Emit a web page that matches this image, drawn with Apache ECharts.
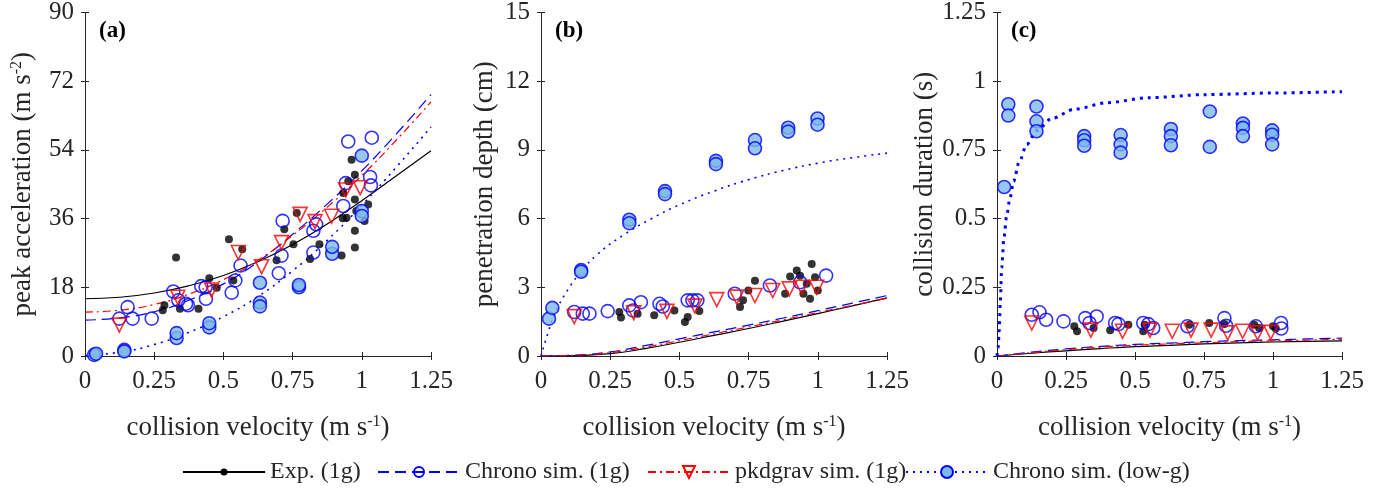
<!DOCTYPE html>
<html>
<head>
<meta charset="utf-8">
<script src="https://cdn.jsdelivr.net/npm/echarts@6/dist/echarts.min.js"></script>
<style>
html,body{margin:0;padding:0;background:#fff;}
#chart{width:1390px;height:488px;}
</style>
</head>
<body>
<div id="chart"></div>
<script>
// ---------- tick labels ----------
const xTicks = [0, 0.25, 0.5, 0.75, 1, 1.25];
const yTicksA = [0, 18, 36, 54, 72, 90];
const yTicksB = [0, 3, 6, 9, 12, 15];
const yTicksC = [0, 0.25, 0.5, 0.75, 1, 1.25];

// ---------- panel (a): peak acceleration ----------
const expA = [[0.281,12.0],[0.287,13.3],[0.329,25.8],[0.343,12.4],[0.41,12.4],[0.449,20.4],[0.476,17.9],[0.52,30.6],[0.536,19.8],[0.568,28.0],[0.692,25.1],[0.72,33.2],[0.753,29.3],[0.765,37.5],[0.813,25.4],[0.847,29.3],[0.927,26.3],[0.931,36.1],[0.945,36.2],[0.933,42.7],[0.963,51.4],[0.975,47.5],[0.975,41.0],[0.975,32.8],[0.975,28.4],[1.01,35.4],[1.023,39.7],[0.98,38.0],[0.951,45.8]];
const chronoA = [[0.124,9.8],[0.154,12.8],[0.172,9.8],[0.241,9.8],[0.319,16.9],[0.337,14.6],[0.365,13.7],[0.372,13.3],[0.42,18.3],[0.436,18.0],[0.437,15.0],[0.53,16.6],[0.543,19.8],[0.562,23.7],[0.70,21.7],[0.71,26.3],[0.714,35.4],[0.825,27.1],[0.825,32.8],[0.835,34.5],[0.933,39.3],[0.942,45.3],[0.951,56.2],[1.036,57.2],[1.03,46.9],[1.033,44.7]];
const pkdA = [[0.124,8.1],[0.335,15.4],[0.457,17.3],[0.554,27.1],[0.638,23.4],[0.71,29.7],[0.777,37.1],[0.831,35.2],[0.891,36.6],[0.942,43.5],[0.994,44.1]];
const lowA = [[0.033,0.3],[0.04,0.6],[0.142,1.6],[0.142,1.2],[0.331,4.7],[0.331,6.0],[0.449,7.5],[0.449,8.6],[0.632,19.2],[0.632,14.0],[0.632,13.0],[0.773,18.0],[0.773,18.6],[0.893,26.8],[0.893,28.6],[1.0,52.5],[1.0,38.0],[1.0,36.7]];
const expFitA = [[0,15.0],[0.125,15.4],[0.25,16.5],[0.375,18.4],[0.5,21.1],[0.625,24.7],[0.75,29.2],[0.875,34.6],[1.0,40.7],[1.125,47.2],[1.25,53.8]];
const chronoFitA = [[0,9.4],[0.125,10.0],[0.25,11.6],[0.375,14.6],[0.5,18.9],[0.625,24.7],[0.75,31.9],[0.875,39.8],[1.0,48.5],[1.125,58.2],[1.25,68.5]];
const pkdFitA = [[0,11.5],[0.125,12.0],[0.25,13.5],[0.375,16.2],[0.5,20.0],[0.625,25.1],[0.75,31.6],[0.875,39.0],[1.0,47.3],[1.125,56.6],[1.25,66.6]];
const lowFitA = [[0,0.2],[0.125,1.0],[0.25,3.0],[0.375,6.2],[0.5,10.3],[0.625,15.6],[0.75,22.3],[0.875,30.3],[1.0,39.5],[1.125,49.5],[1.25,60.0]];

// ---------- panel (b): penetration depth ----------
const expB = [[0.283,1.92],[0.289,1.68],[0.349,1.85],[0.409,1.78],[0.482,1.99],[0.52,1.49],[0.53,1.7],[0.572,1.96],[0.719,2.14],[0.73,2.43],[0.749,2.86],[0.773,3.29],[0.882,2.72],[0.9,3.47],[0.924,3.73],[0.936,3.5],[0.978,4.02],[0.96,3.15],[0.972,2.5],[1.0,2.86],[0.99,3.44],[0.948,2.72]];
const chronoB = [[0.12,1.92],[0.151,1.85],[0.175,1.85],[0.241,1.96],[0.319,2.21],[0.332,1.99],[0.361,2.35],[0.428,2.28],[0.44,2.16],[0.53,2.43],[0.547,2.43],[0.565,2.43],[0.70,2.72],[0.827,3.08],[0.936,3.22],[1.03,3.51]];
const pkdB = [[0.12,1.72],[0.335,1.89],[0.455,1.95],[0.556,2.18],[0.635,2.46],[0.707,2.57],[0.773,2.64],[0.837,2.86],[0.897,2.93],[0.942,3.0],[0.996,3.0]];
const lowB = [[0.029,1.63],[0.041,2.1],[0.145,3.75],[0.145,3.68],[0.319,5.95],[0.319,5.8],[0.448,7.2],[0.448,7.07],[0.632,8.52],[0.632,8.38],[0.773,9.43],[0.773,9.07],[0.893,9.97],[0.893,9.8],[0.999,10.37],[0.999,10.1]];
const expFitB = [[0,0],[0.125,0.02],[0.25,0.1],[0.375,0.32],[0.5,0.6],[0.625,0.9],[0.75,1.2],[0.875,1.52],[1.0,1.85],[1.125,2.19],[1.25,2.54]];
const chronoFitB = [[0,0],[0.125,0.04],[0.25,0.18],[0.375,0.45],[0.5,0.75],[0.625,1.05],[0.75,1.35],[0.875,1.66],[1.0,1.98],[1.125,2.31],[1.25,2.64]];
const pkdFitB = [[0,0],[0.125,0.03],[0.25,0.14],[0.375,0.38],[0.5,0.67],[0.625,0.97],[0.75,1.27],[0.875,1.58],[1.0,1.9],[1.125,2.21],[1.25,2.52]];
const lowFitB = [[0,0],[0.025,1.0],[0.05,1.85],[0.1,2.95],[0.15,3.75],[0.2,4.4],[0.3,5.3],[0.4,6.0],[0.5,6.6],[0.625,7.2],[0.75,7.7],[0.875,8.1],[1.0,8.42],[1.125,8.66],[1.25,8.86]];

// ---------- panel (c): collision duration ----------
const expC = [[0.28,0.108],[0.29,0.09],[0.35,0.102],[0.41,0.094],[0.476,0.114],[0.53,0.09],[0.535,0.114],[0.697,0.114],[0.769,0.12],[0.824,0.116],[0.932,0.114],[0.95,0.102],[1.0,0.108],[1.01,0.1]];
const chronoC = [[0.126,0.150],[0.154,0.159],[0.178,0.132],[0.241,0.126],[0.32,0.138],[0.335,0.12],[0.361,0.144],[0.428,0.12],[0.44,0.116],[0.53,0.12],[0.548,0.116],[0.566,0.102],[0.69,0.108],[0.824,0.138],[0.83,0.11],[0.938,0.108],[1.029,0.12],[1.03,0.1]];
const pkdC = [[0.126,0.12],[0.34,0.094],[0.455,0.09],[0.554,0.094],[0.635,0.09],[0.703,0.094],[0.776,0.094],[0.836,0.084],[0.89,0.09],[0.944,0.084],[0.992,0.086]];
const lowC = [[0.026,0.615],[0.041,0.916],[0.041,0.875],[0.143,0.908],[0.143,0.854],[0.143,0.818],[0.316,0.80],[0.316,0.785],[0.316,0.765],[0.448,0.804],[0.448,0.77],[0.448,0.74],[0.63,0.826],[0.63,0.80],[0.63,0.767],[0.771,0.89],[0.771,0.761],[0.891,0.846],[0.891,0.83],[0.891,0.8],[0.997,0.821],[0.997,0.805],[0.997,0.77]];
const expFitC = [[0,0],[0.125,0.01],[0.25,0.019],[0.375,0.027],[0.5,0.034],[0.625,0.039],[0.75,0.044],[0.875,0.048],[1.0,0.051],[1.125,0.053],[1.25,0.055]];
const chronoFitC = [[0,0],[0.125,0.014],[0.25,0.026],[0.375,0.035],[0.5,0.042],[0.625,0.047],[0.75,0.052],[0.875,0.056],[1.0,0.059],[1.125,0.062],[1.25,0.065]];
const pkdFitC = [[0,0],[0.125,0.012],[0.25,0.023],[0.375,0.032],[0.5,0.039],[0.625,0.044],[0.75,0.048],[0.875,0.052],[1.0,0.055],[1.125,0.058],[1.25,0.061]];
const lowFitC = [[0,0],[0.004,0.03],[0.008,0.09],[0.012,0.2],[0.017,0.32],[0.025,0.43],[0.035,0.51],[0.047,0.575],[0.06,0.635],[0.08,0.705],[0.108,0.77],[0.143,0.82],[0.2,0.865],[0.28,0.898],[0.4,0.922],[0.55,0.94],[0.75,0.951],[1.0,0.957],[1.25,0.962]];

// ---------- labels ----------
const panelLabels = ['(a)', '(b)', '(c)'];
const yNames = ['peak acceleration (m s{sup|-2})', 'penetration depth (cm)', 'collision duration (s)'];
const xName = 'collision velocity (m s{sup|-1})';
const legendNames = ['Exp. (1g)', 'Chrono sim. (1g)', 'pkdgrav sim. (1g)', 'Chrono sim. (low-g)'];

// ---------- styling ----------
const FONT = 'Liberation Serif';
const AX = '#262626';
const BLUE = '#0000ff';
const RED = '#ff0000';
const LIGHT = '#7db9e8';
const grids = [
  {left: 85, top: 10, width: 346, height: 346},
  {left: 541, top: 10, width: 346, height: 346},
  {left: 997, top: 10, width: 345, height: 346}
];
const yNameGaps = [48, 43, 59];
const yTickSets = [yTicksA, yTicksB, yTicksC];

const rich = {sup: {fontSize: 16, fontFamily: FONT, color: AX, verticalAlign: 'top', padding: [0, 0, 12, 0]}};

const xAxes = [], yAxes = [];
grids.forEach((g, i) => {
  const xmin = xTicks[0], xmax = xTicks[xTicks.length - 1], xint = xTicks[1] - xTicks[0];
  const yt = yTickSets[i];
  const ymin = yt[0], ymax = yt[yt.length - 1], yint = yt[1] - yt[0];
  xAxes.push({
    type: 'value', gridIndex: i, position: 'bottom', min: xmin, max: xmax, interval: xint,
    axisLine: {show: true, lineStyle: {color: AX, width: 1}},
    axisTick: {show: true, inside: true, length: 4, lineStyle: {color: AX}},
    axisLabel: {color: AX, fontFamily: FONT, fontSize: 25, margin: 13},
    splitLine: {show: false},
    name: xName, nameLocation: 'middle', nameGap: 58,
    nameTextStyle: {color: AX, fontFamily: FONT, fontSize: 27, rich: rich}
  });
  xAxes.push({
    type: 'value', gridIndex: i, position: 'top', min: xmin, max: xmax, interval: xint,
    axisLine: {show: true, lineStyle: {color: AX, width: 1}},
    axisTick: {show: true, inside: true, length: 4, lineStyle: {color: AX}},
    axisLabel: {show: false}, splitLine: {show: false}
  });
  yAxes.push({
    type: 'value', gridIndex: i, position: 'left', min: ymin, max: ymax, interval: yint,
    axisLine: {show: true, lineStyle: {color: AX, width: 1}},
    axisTick: {show: true, inside: true, length: 4, lineStyle: {color: AX}},
    axisLabel: {color: AX, fontFamily: FONT, fontSize: 25, margin: 11},
    splitLine: {show: false},
    name: yNames[i], nameLocation: 'middle', nameGap: yNameGaps[i],
    nameTextStyle: {color: AX, fontFamily: FONT, fontSize: 27, rich: rich}
  });
  yAxes.push({
    type: 'value', gridIndex: i, position: 'right', min: ymin, max: ymax, interval: yint,
    axisLine: {show: true, lineStyle: {color: AX, width: 1}},
    axisTick: {show: true, inside: true, length: 4, lineStyle: {color: AX}},
    axisLabel: {show: false}, splitLine: {show: false}
  });
});

const styles = {
  exp: {line: {color: '#000', width: 1.2, type: 'solid'}, sym: 'circle', size: 8, item: {color: '#000'}},
  chrono: {line: {color: BLUE, width: 1.2, type: [11, 6]}, sym: 'circle', size: 13, item: {color: 'rgba(0,0,0,0)', borderColor: BLUE, borderWidth: 1.6}},
  pkd: {line: {color: RED, width: 1.2, type: [8, 4, 2, 4]}, sym: 'triangle', size: 14, rot: 180, item: {color: 'rgba(0,0,0,0)', borderColor: RED, borderWidth: 1.6}},
  low: {line: {color: BLUE, width: 1.6, type: [2, 5]}, sym: 'circle', size: 13, item: {color: LIGHT, borderColor: BLUE, borderWidth: 1.6}}
};

const panels = [
  {exp: expA, chrono: chronoA, pkd: pkdA, low: lowA, fits: {exp: expFitA, chrono: chronoFitA, pkd: pkdFitA, low: lowFitA}},
  {exp: expB, chrono: chronoB, pkd: pkdB, low: lowB, fits: {exp: expFitB, chrono: chronoFitB, pkd: pkdFitB, low: lowFitB}},
  {exp: expC, chrono: chronoC, pkd: pkdC, low: lowC, fits: {exp: expFitC, chrono: chronoFitC, pkd: pkdFitC, low: lowFitC}}
];

const series = [];
const keys = ['exp', 'chrono', 'pkd', 'low'];
panels.forEach((p, i) => {
  keys.forEach(k => {
    const st = styles[k];
    let ls = Object.assign({}, st.line);
    const steep = (i === 2 && k === 'low');
    if (steep) { ls.width = 3; ls.type = [3, 5]; }
    series.push({
      type: 'line', name: k + '-fit-' + i, xAxisIndex: 2 * i, yAxisIndex: 2 * i,
      data: p.fits[k], showSymbol: false, symbol: 'none',
      smooth: steep ? 0.3 : 0.5, smoothMonotone: steep ? 'x' : undefined,
      lineStyle: ls, silent: true, animation: false, z: 2
    });
  });
  keys.forEach(k => {
    const st = styles[k];
    series.push({
      type: 'scatter', name: k + '-pts-' + i, xAxisIndex: 2 * i, yAxisIndex: 2 * i,
      data: p[k], symbol: st.sym, symbolSize: st.size, symbolRotate: st.rot || 0,
      itemStyle: st.item, silent: true, animation: false, z: 3
    });
  });
});

// legend-only series
const legendSizes = [7, 10, 12, 12];
keys.forEach((k, j) => {
  const st = styles[k];
  series.push({
    type: 'line', name: legendNames[j], xAxisIndex: 0, yAxisIndex: 0, data: [],
    symbol: st.sym, symbolRotate: st.rot || 0, lineStyle: st.line, itemStyle: st.item
  });
});

const legendLefts = [177, 372, 642, 900];
const legends = legendNames.map((n, j) => ({
  data: [n], left: legendLefts[j], top: 455, itemWidth: 82, itemHeight: legendSizes[j] / 0.8, itemGap: 0,
  selectedMode: false, textStyle: {fontFamily: FONT, fontSize: 24, color: AX}
}));

const graphics = panelLabels.map((t, i) => ({
  type: 'text', left: grids[i].left + 14, top: 20,
  style: {text: t, font: 'bold 23px "Liberation Serif"', fill: '#000'}
}));

const chart = echarts.init(document.getElementById('chart'), null, {renderer: 'canvas'});
chart.setOption({
  animation: false,
  backgroundColor: '#fff',
  grid: grids,
  xAxis: xAxes,
  yAxis: yAxes,
  legend: legends,
  graphic: graphics,
  series: series
});
</script>
</body>
</html>
